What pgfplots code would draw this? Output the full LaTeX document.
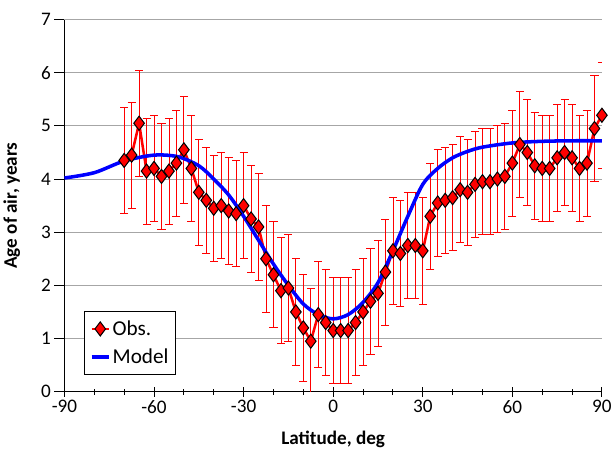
\documentclass[border=0pt]{standalone}
\usepackage{pgfplots}
\pgfplotsset{compat=1.18}
\usepackage{fontspec}
\setmainfont{Carlito}
\begin{document}
\begin{tikzpicture}
\begin{axis}[
 scale only axis, width=533pt, height=369pt,
 xmin=-90, xmax=90, ymin=0, ymax=7,
 xtick={-90,-60,...,90}, minor xtick={-80,-70,-50,-40,-20,-10,10,20,40,50,70,80},
 ytick={0,...,7},
 tick align=center, ytick align=outside,
 major tick length=10pt, minor tick length=6pt,
 tick style={black, line width=1pt},
 axis line style={line width=1pt},
 axis x line*=bottom, axis y line*=left,
 ymajorgrids, grid style={gray!70, line width=1pt},
 ticklabel style={font=\fontsize{19}{19}\selectfont},
 /pgf/number format/assume math mode=true,
 xticklabel={\pgfmathprintnumber[assume math mode=true]{\tick}},
 xlabel={\textbf{Latitude, deg}}, ylabel={\textbf{Age of air, years}},
 label style={font=\fontsize{19}{19}\selectfont\bfseries},
 xlabel style={yshift=-11pt}, ylabel style={yshift=14pt},
 legend style={at={(0.037,0.045)}, anchor=south west, font=\fontsize{21}{21}\selectfont, draw=black, line width=1pt, row sep=8pt, inner xsep=5pt, inner ysep=7pt},
 legend cell align=left,
]
\addplot[red, line width=2.5pt, mark=diamond*, mark size=7pt, mark options={fill=red, draw=black, line width=1pt},
 error bars/.cd, y dir=both, y explicit, error bar style={red, line width=0.8pt}, error mark options={red, line width=0.8pt, mark size=4pt, rotate=90}]
 table[y error index=2]{
x y e
-70 4.35 1.0
-67.5 4.45 1.0
-65 5.05 1.0
-62.5 4.15 1.0
-60 4.2 1.0
-57.5 4.05 1.0
-55 4.15 1.0
-52.5 4.3 1.0
-50 4.55 1.0
-47.5 4.2 1.0
-45 3.75 1.0
-42.5 3.6 1.0
-40 3.45 1.0
-37.5 3.5 1.0
-35 3.4 1.0
-32.5 3.35 1.0
-30 3.5 1.0
-27.5 3.25 1.0
-25 3.1 1.0
-22.5 2.5 1.0
-20 2.2 1.0
-17.5 1.9 1.0
-15 1.95 1.0
-12.5 1.5 1.0
-10 1.2 1.0
-7.5 0.95 1.0
-5 1.45 1.0
-2.5 1.3 1.0
0 1.15 1.0
2.5 1.15 1.0
5 1.15 1.0
7.5 1.3 1.0
10 1.5 1.0
12.5 1.7 1.0
15 1.85 1.0
17.5 2.25 1.0
20 2.65 1.0
22.5 2.6 1.0
25 2.75 1.0
27.5 2.75 1.0
30 2.65 1.0
32.5 3.3 1.0
35 3.55 1.0
37.5 3.6 1.0
40 3.65 1.0
42.5 3.8 1.0
45 3.75 1.0
47.5 3.9 1.0
50 3.95 1.0
52.5 3.95 1.0
55 4.0 1.0
57.5 4.05 1.0
60 4.3 1.0
62.5 4.65 1.0
65 4.5 1.0
67.5 4.25 1.0
70 4.2 1.0
72.5 4.2 1.0
75 4.4 1.0
77.5 4.5 1.0
80 4.4 1.0
82.5 4.2 1.0
85 4.3 1.0
87.5 4.95 1.0
90 5.2 1.0
};
\addlegendentry{Obs.}
\addplot[blue, line width=3.5pt, smooth] coordinates {
(-90,4.02) (-80,4.12) (-70,4.34) (-60,4.45) (-52,4.42) (-45,4.25) (-40,4.0) (-35,3.7) (-30,3.3) (-25,2.85) (-20,2.4) (-15,2.0) (-10,1.65) (-5,1.45) (0,1.37) (5,1.45) (10,1.68) (15,2.05) (20,2.65) (25,3.3) (30,3.9) (35,4.2) (40,4.4) (45,4.52) (50,4.6) (60,4.68) (70,4.71) (80,4.72) (90,4.72)};
\addlegendentry{Model}
\end{axis}
\path (current bounding box.north) ++(0,10pt);
\end{tikzpicture}
\end{document}
